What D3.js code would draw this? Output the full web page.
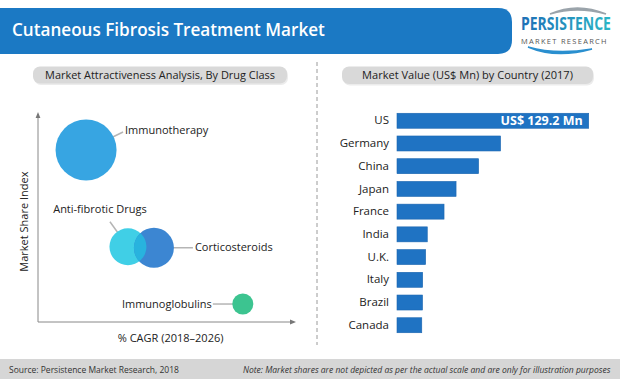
<!DOCTYPE html>
<html><head><meta charset="utf-8">
<script src="https://cdn.jsdelivr.net/npm/d3@7"></script>
<style>
html,body{margin:0;padding:0;background:#fff;}
svg{display:block;}
text{font-family:"Open Sans",Lato,sans-serif;}
</style></head>
<body>
<svg id="c" width="620" height="379"></svg>
<script>
// ---- data ----
const drugClasses = ["Immunotherapy", "Anti-fibrotic Drugs", "Corticosteroids", "Immunoglobulins"];
const cagrValues = [1.87, 3.5, 4.51, 7.97];
const shareIndex = [8.23, 3.6, 3.55, 0.86];
const bubbleSize = [100, 36.8, 43, 11.9];

const countries = ["US", "Germany", "China", "Japan", "France", "India", "U.K.", "Italy", "Brazil", "Canada"];
const marketValues = [129.2, 69.8, 55.0, 39.8, 31.7, 20.4, 19.3, 17.3, 17.2, 16.7];

const titleText = "Cutaneous Fibrosis Treatment Market";
const leftSubtitle = "Market Attractiveness Analysis, By Drug Class";
const rightSubtitle = "Market Value (US$ Mn) by Country (2017)";
const yAxisTitle = "Market Share Index";
const xAxisTitle = "% CAGR (2018–2026)";
const usLabel = "US$ 129.2 Mn";
const sourceText = "Source: Persistence Market Research, 2018";
const noteText = "Note: Market shares are not depicted as per the actual scale and are only for illustration purposes";

// ---- helpers ----
const svg = d3.select("#c");
function fit(sel, w) {
  const n = sel.node();
  const cur = n.getComputedTextLength();
  const fs = parseFloat(sel.attr("font-size"));
  sel.attr("font-size", fs * w / cur);
  return sel;
}
const defs = svg.append("defs");

// ---- header ----
svg.append("path")
  .attr("d", "M0,8 H498 Q512,8 512,22 V40 Q512,54 498,54 H0 Z")
  .attr("fill", "#1b79c4");
fit(svg.append("text").text(titleText)
  .attr("x", 12).attr("y", 36).attr("font-size", 18).attr("font-weight", 600)
  .attr("fill", "#fff"), 313);

// logo
const lg = defs.append("linearGradient").attr("id", "lg").attr("x1", "0").attr("x2", "1");
lg.append("stop").attr("offset", "0").attr("stop-color", "#1f6fb6");
lg.append("stop").attr("offset", "1").attr("stop-color", "#2bb6c6");
svg.append("path").attr("d", "M550,14 Q577,2 606,14 Q577,6 550,14 Z")
  .attr("fill", "#9aa3aa").attr("stroke", "#9aa3aa").attr("stroke-width", 1.5);
fit(svg.append("text").text("PERSISTENCE")
  .attr("x", 0).attr("y", 0).attr("font-size", 15).attr("font-weight", 700)
  .attr("font-family", "'Liberation Sans Narrow','DejaVu Sans Condensed',sans-serif")
  .attr("fill", "url(#lg)"), 90)
  .attr("transform", "translate(521,29.5) scale(1,1.3)");
fit(svg.append("text").text("MARKET RESEARCH")
  .attr("x", 521).attr("y", 44).attr("font-size", 6.5).attr("letter-spacing", 1.3)
  .attr("font-family", "'DejaVu Sans',sans-serif")
  .attr("fill", "#555"), 90);
svg.append("path").attr("d", "M528,47 Q556,59 592,49 Q556,55 528,47 Z")
  .attr("fill", "#2a8fcf").attr("stroke", "#2a8fcf").attr("stroke-width", 1.5);

// ---- subtitle pills ----
function pill(x, y, w, h, txt, tw) {
  svg.append("rect").attr("x", x + 1).attr("y", y + 1.5).attr("width", w).attr("height", h)
    .attr("rx", 7).attr("fill", "#ececec");
  svg.append("rect").attr("x", x).attr("y", y).attr("width", w).attr("height", h)
    .attr("rx", 7).attr("fill", "#d9d9d9");
  fit(svg.append("text").text(txt).attr("x", x + w / 2).attr("y", y + h / 2 + 4)
    .attr("text-anchor", "middle").attr("font-size", 12).attr("fill", "#222"), tw);
}
pill(33, 66.5, 254, 17, leftSubtitle, 230);
pill(342, 66.5, 251, 17.5, rightSubtitle, 211);

// divider
svg.append("line").attr("x1", 317).attr("x2", 317).attr("y1", 62).attr("y2", 345)
  .attr("stroke", "#9a9a9a").attr("stroke-dasharray", "4,3").attr("stroke-width", 1);

// ---- bubble chart ----
const x = d3.scaleLinear().domain([0, 10]).range([38, 295]);
const y = d3.scaleLinear().domain([0, 10]).range([322, 113]);
const r = d3.scaleSqrt().domain([0, 100]).range([0, 30.5]);
const bubbleColors = ["#37a5e2", "#40cfe6", "#3c86d2", "#3cc490"];
const bubbles = drugClasses.map((n, i) => ({ name: n, cx: x(cagrValues[i]), cy: y(shareIndex[i]), r: r(bubbleSize[i]), color: bubbleColors[i] }));

// axes
defs.append("marker").attr("id", "arr").attr("viewBox", "0 0 10 10").attr("refX", 5).attr("refY", 5)
  .attr("markerWidth", 6).attr("markerHeight", 6).attr("orient", "auto")
  .append("path").attr("d", "M0,1 L10,5 L0,9 Z").attr("fill", "#777");
svg.append("line").attr("x1", x(0)).attr("y1", y(0)).attr("x2", x(0)).attr("y2", y(10) + 2)
  .attr("stroke", "#888").attr("stroke-width", 1).attr("marker-end", "url(#arr)");
svg.append("line").attr("x1", x(0)).attr("y1", y(0)).attr("x2", x(10) - 2).attr("y2", y(0))
  .attr("stroke", "#888").attr("stroke-width", 1).attr("marker-end", "url(#arr)");
svg.append("text").text(yAxisTitle).attr("transform", `translate(28,${y(4.8)}) rotate(-90)`)
  .attr("text-anchor", "middle").attr("font-size", 11).attr("fill", "#222");
svg.append("text").text(xAxisTitle).attr("x", x(5.16)).attr("y", 342)
  .attr("text-anchor", "middle").attr("font-size", 11).attr("fill", "#222");

// leader lines (beneath bubbles)
const B = bubbles;
const leaders = [
  [B[0].cx, B[0].cy, B[0].cx + 37, B[0].cy - 18],
  [B[1].cx, B[1].cy, B[1].cx - 18, B[1].cy - 25],
  [B[2].cx, B[2].cy, B[2].cx + 39, B[2].cy],
  [B[3].cx, B[3].cy, B[3].cx - 30, B[3].cy]
];
svg.selectAll(".leader").data(leaders).join("line")
  .attr("x1", d => d[0]).attr("y1", d => d[1]).attr("x2", d => d[2]).attr("y2", d => d[3])
  .attr("stroke", "#b5b5b5").attr("stroke-width", 1.5);

svg.selectAll(".bub").data(bubbles).join("circle")
  .attr("cx", d => d.cx).attr("cy", d => d.cy).attr("r", d => d.r).attr("fill", d => d.color);
// overlap of anti-fibrotic & corticosteroids
defs.append("clipPath").attr("id", "cc").append("circle")
  .attr("cx", B[2].cx).attr("cy", B[2].cy).attr("r", B[2].r);
svg.append("circle").attr("cx", B[1].cx).attr("cy", B[1].cy).attr("r", B[1].r)
  .attr("fill", "#28b3de").attr("clip-path", "url(#cc)");

// bubble labels
const labelPos = [
  { x: B[0].cx + 39, y: B[0].cy - 16, a: "start" },
  { x: B[1].cx - 28, y: B[1].cy - 34, a: "middle" },
  { x: B[2].cx + 41, y: B[2].cy + 3.5, a: "start" },
  { x: B[3].cx - 31, y: B[3].cy + 3.5, a: "end" }
];
svg.selectAll(".blab").data(bubbles).join("text")
  .text(d => d.name)
  .attr("x", (d, i) => labelPos[i].x).attr("y", (d, i) => labelPos[i].y)
  .attr("text-anchor", (d, i) => labelPos[i].a)
  .attr("font-size", 11).attr("fill", "#222");

// ---- bar chart ----
const xb = d3.scaleLinear().domain([0, 129.2]).range([397, 588.7]);
const yb = d3.scaleBand().domain(countries).range([109.4, 336.6]).paddingInner(0.34).paddingOuter(0.17);
svg.selectAll(".bar").data(countries).join("rect")
  .attr("x", xb(0)).attr("y", d => yb(d))
  .attr("width", (d, i) => xb(marketValues[i]) - xb(0)).attr("height", yb.bandwidth())
  .attr("fill", "#1f73c3").attr("stroke", "#1c66b0").attr("stroke-width", 0.6);
const yAxis = d3.axisLeft(yb).tickSize(0).tickPadding(8);
const ga = svg.append("g").attr("transform", `translate(${xb(0)},0)`).call(yAxis);
ga.select(".domain").remove();
ga.selectAll("text").attr("font-size", 11.5).attr("fill", "#222")
  .attr("font-family", "'Open Sans',sans-serif");
svg.append("text").text(usLabel).attr("x", xb(marketValues[0]) - 6)
  .attr("y", yb("US") + yb.bandwidth() / 2 + 4.5)
  .attr("text-anchor", "end").attr("font-size", 12.5).attr("font-weight", 700).attr("fill", "#fff");

// ---- footer ----
svg.append("rect").attr("x", 0).attr("y", 359).attr("width", 620).attr("height", 20).attr("fill", "#d6d6d6");
fit(svg.append("text").text(sourceText).attr("x", 9).attr("y", 372.5)
  .attr("font-size", 9).attr("fill", "#333"), 170);
fit(svg.append("text").text(noteText).attr("x", 243).attr("y", 372.5)
  .attr("font-size", 9).attr("font-style", "italic").attr("fill", "#333"), 368);
</script>
</body></html>
